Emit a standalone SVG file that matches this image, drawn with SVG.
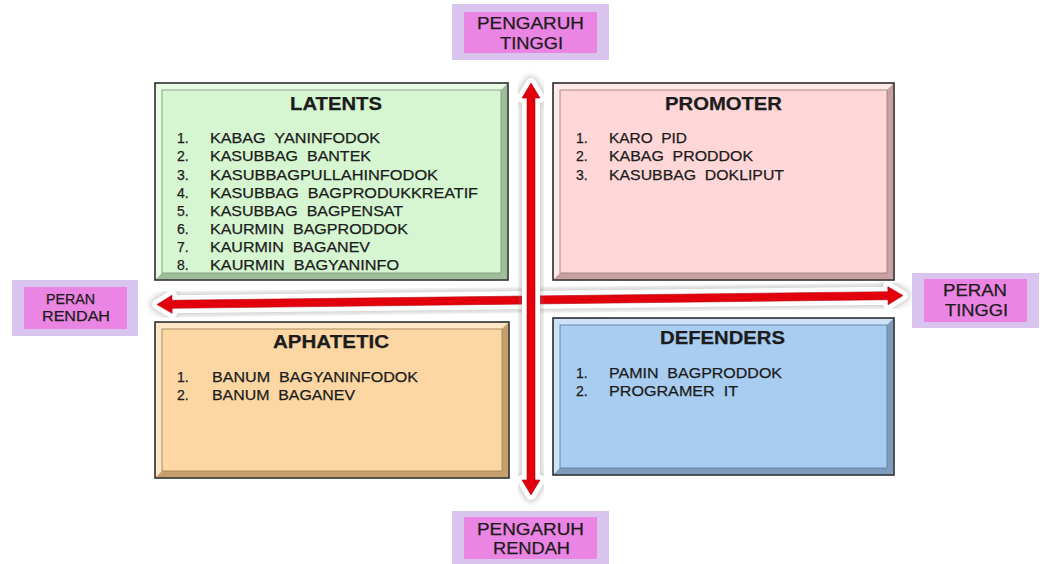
<svg xmlns="http://www.w3.org/2000/svg" width="1040" height="564" viewBox="0 0 1040 564">
  <defs>
    <style>
      text { font-family: "Liberation Sans", Arial, sans-serif; fill: #1c1c1c; stroke: #1c1c1c; stroke-width: 0.25; }
      .title { font-size: 17.5px; font-weight: bold; }
      .item { font-size: 14px; }
      .lbl { font-size: 16px; }
      .lbl-s { font-size: 14.5px; }
      .edge { stroke: #2e2e2e; stroke-width: 1.6; }
      .inner { fill: none; stroke-width: 0.9; }
      .tag-out { fill: #d9c4ee; }
      .tag-in { fill: #eb85e3; }
      .shadow { fill: #7a7a7a; stroke: #7a7a7a; stroke-width: 13; stroke-linejoin: round; opacity: 0.45; filter: url(#soft); }
      .halo { fill: #ffffff; stroke: #ffffff; stroke-width: 10; stroke-linejoin: round; }
      .core { fill: #e3000d; stroke: #b5000a; stroke-width: 0.6; }
      #latents .base { fill: #d6f6d1; } #latents .lt { fill: #e9fbe5; } #latents .dk { fill: #9fbd9a; } #latents .inner { stroke: #7f9c7b; }
      #promoter .base { fill: #ffd7d8; } #promoter .lt { fill: #ffe9ea; } #promoter .dk { fill: #c7a0a1; } #promoter .inner { stroke: #a48283; }
      #aphatetic .base { fill: #fdd7a3; } #aphatetic .lt { fill: #fee7c6; } #aphatetic .dk { fill: #c79f6e; } #aphatetic .inner { stroke: #a7855a; }
      #defenders .base { fill: #a9cdf1; } #defenders .lt { fill: #cfe3f8; } #defenders .dk { fill: #7d9cbc; } #defenders .inner { stroke: #60809f; }
    </style>
    <filter id="soft" x="-20%" y="-20%" width="140%" height="140%">
      <feGaussianBlur stdDeviation="3"/>
    </filter>
    <!-- double-headed arrow shapes -->
    <path id="h-arrow" d="M157 300 L172 291 L172 296 L888 296 L888 291 L903 300 L888 309 L888 304 L172 304 L172 309 Z"/>
    <path id="v-arrow" d="M531 83 L540 98 L535 98 L535 480 L540 480 L531 495 L522 480 L527 480 L527 98 L522 98 Z"/>
  </defs>

  <rect width="1040" height="564" fill="#ffffff"/>

  <!-- quadrant boxes -->
  <g id="latents">
    <rect class="base edge" x="155" y="83" width="353" height="197"/>
    <path class="lt" d="M156 84 H507 L501 90 H162 Z"/>
    <path class="lt" d="M156 84 L162 90 V273 L156 279 Z"/>
    <path class="dk" d="M156 279 H507 L501 273 H162 Z"/>
    <path class="dk" d="M507 84 V279 L501 273 V90 Z"/>
    <rect class="inner" x="162" y="90" width="339" height="183"/>
    <text class="title" x="290" y="110" textLength="92" lengthAdjust="spacingAndGlyphs">LATENTS</text>
    <g class="item">
      <text x="177" y="143.3">1.</text><text x="210" y="143.3" textLength="170" lengthAdjust="spacingAndGlyphs">KABAG&#160; YANINFODOK</text>
      <text x="177" y="161.4">2.</text><text x="210" y="161.4" textLength="161" lengthAdjust="spacingAndGlyphs">KASUBBAG&#160; BANTEK</text>
      <text x="177" y="179.5">3.</text><text x="210" y="179.5" textLength="228" lengthAdjust="spacingAndGlyphs">KASUBBAGPULLAHINFODOK</text>
      <text x="177" y="197.6">4.</text><text x="210" y="197.6" textLength="268" lengthAdjust="spacingAndGlyphs">KASUBBAG&#160; BAGPRODUKKREATIF</text>
      <text x="177" y="215.7">5.</text><text x="210" y="215.7" textLength="193" lengthAdjust="spacingAndGlyphs">KASUBBAG&#160; BAGPENSAT</text>
      <text x="177" y="233.8">6.</text><text x="210" y="233.8" textLength="198" lengthAdjust="spacingAndGlyphs">KAURMIN&#160; BAGPRODDOK</text>
      <text x="177" y="251.9">7.</text><text x="210" y="251.9" textLength="160" lengthAdjust="spacingAndGlyphs">KAURMIN&#160; BAGANEV</text>
      <text x="177" y="270">8.</text><text x="210" y="270" textLength="189" lengthAdjust="spacingAndGlyphs">KAURMIN&#160; BAGYANINFO</text>
    </g>
  </g>

  <g id="promoter">
    <rect class="base edge" x="553" y="83" width="341" height="197"/>
    <path class="lt" d="M554 84 H893 L887 90 H560 Z"/>
    <path class="lt" d="M554 84 L560 90 V273 L554 279 Z"/>
    <path class="dk" d="M554 279 H893 L887 273 H560 Z"/>
    <path class="dk" d="M893 84 V279 L887 273 V90 Z"/>
    <rect class="inner" x="560" y="90" width="327" height="183"/>
    <text class="title" x="665" y="110" textLength="117" lengthAdjust="spacingAndGlyphs">PROMOTER</text>
    <g class="item">
      <text x="576" y="143.3">1.</text><text x="609" y="143.3" textLength="78" lengthAdjust="spacingAndGlyphs">KARO&#160; PID</text>
      <text x="576" y="161.4">2.</text><text x="609" y="161.4" textLength="144" lengthAdjust="spacingAndGlyphs">KABAG&#160; PRODDOK</text>
      <text x="576" y="179.5">3.</text><text x="609" y="179.5" textLength="175" lengthAdjust="spacingAndGlyphs">KASUBBAG&#160; DOKLIPUT</text>
    </g>
  </g>

  <g id="aphatetic">
    <rect class="base edge" x="155" y="322" width="354" height="156"/>
    <path class="lt" d="M156 323 H508 L502 329 H162 Z"/>
    <path class="lt" d="M156 323 L162 329 V471 L156 477 Z"/>
    <path class="dk" d="M156 477 H508 L502 471 H162 Z"/>
    <path class="dk" d="M508 323 V477 L502 471 V329 Z"/>
    <rect class="inner" x="162" y="329" width="340" height="142"/>
    <text class="title" x="273" y="348" textLength="116" lengthAdjust="spacingAndGlyphs">APHATETIC</text>
    <g class="item">
      <text x="177" y="382">1.</text><text x="212" y="382" textLength="206" lengthAdjust="spacingAndGlyphs">BANUM&#160; BAGYANINFODOK</text>
      <text x="177" y="400">2.</text><text x="212" y="400" textLength="143" lengthAdjust="spacingAndGlyphs">BANUM&#160; BAGANEV</text>
    </g>
  </g>

  <g id="defenders">
    <rect class="base edge" x="553" y="318" width="341" height="157"/>
    <path class="lt" d="M554 319 H893 L887 325 H560 Z"/>
    <path class="lt" d="M554 319 L560 325 V468 L554 474 Z"/>
    <path class="dk" d="M554 474 H893 L887 468 H560 Z"/>
    <path class="dk" d="M893 319 V474 L887 468 V325 Z"/>
    <rect class="inner" x="560" y="325" width="327" height="143"/>
    <text class="title" x="660" y="344" textLength="125" lengthAdjust="spacingAndGlyphs">DEFENDERS</text>
    <g class="item">
      <text x="576" y="377.7">1.</text><text x="609" y="377.7" textLength="173" lengthAdjust="spacingAndGlyphs">PAMIN&#160; BAGPRODDOK</text>
      <text x="576" y="395.7">2.</text><text x="609" y="395.7" textLength="129" lengthAdjust="spacingAndGlyphs">PROGRAMER&#160; IT</text>
    </g>
  </g>

  <!-- axes: horizontal (peran) beneath vertical (pengaruh) -->
  <g id="connectors">
    <g id="axis-peran" transform="rotate(-0.69 530 300)">
      <use href="#h-arrow" class="shadow"/>
      <use href="#h-arrow" class="halo"/>
      <use href="#h-arrow" class="core"/>
    </g>
    <g id="axis-pengaruh">
      <use href="#v-arrow" class="shadow"/>
      <use href="#v-arrow" class="halo"/>
      <use href="#v-arrow" class="core"/>
    </g>
  </g>

  <!-- axis end labels -->
  <g id="pengaruh-tinggi">
    <rect class="tag-out" x="452" y="4" width="157" height="56"/>
    <rect class="tag-in" x="464" y="12" width="133" height="41"/>
    <text class="lbl" x="477" y="29" textLength="107" lengthAdjust="spacingAndGlyphs">PENGARUH</text>
    <text class="lbl" x="500" y="49" textLength="63" lengthAdjust="spacingAndGlyphs">TINGGI</text>
  </g>

  <g id="pengaruh-rendah">
    <rect class="tag-out" x="452" y="511" width="157" height="53"/>
    <rect class="tag-in" x="464" y="517" width="133" height="42"/>
    <text class="lbl" x="477" y="535" textLength="107" lengthAdjust="spacingAndGlyphs">PENGARUH</text>
    <text class="lbl" x="493" y="554" textLength="77" lengthAdjust="spacingAndGlyphs">RENDAH</text>
  </g>

  <g id="peran-rendah">
    <rect class="tag-out" x="12" y="280" width="126" height="56"/>
    <rect class="tag-in" x="24" y="287" width="103" height="42"/>
    <text class="lbl-s" x="46" y="304" textLength="49" lengthAdjust="spacingAndGlyphs">PERAN</text>
    <text class="lbl-s" x="42" y="321" textLength="68" lengthAdjust="spacingAndGlyphs">RENDAH</text>
  </g>

  <g id="peran-tinggi">
    <rect class="tag-out" x="912" y="273" width="127" height="55"/>
    <rect class="tag-in" x="924" y="279" width="103" height="43"/>
    <text class="lbl" x="943" y="296" textLength="64" lengthAdjust="spacingAndGlyphs">PERAN</text>
    <text class="lbl" x="945" y="316" textLength="63" lengthAdjust="spacingAndGlyphs">TINGGI</text>
  </g>
</svg>
